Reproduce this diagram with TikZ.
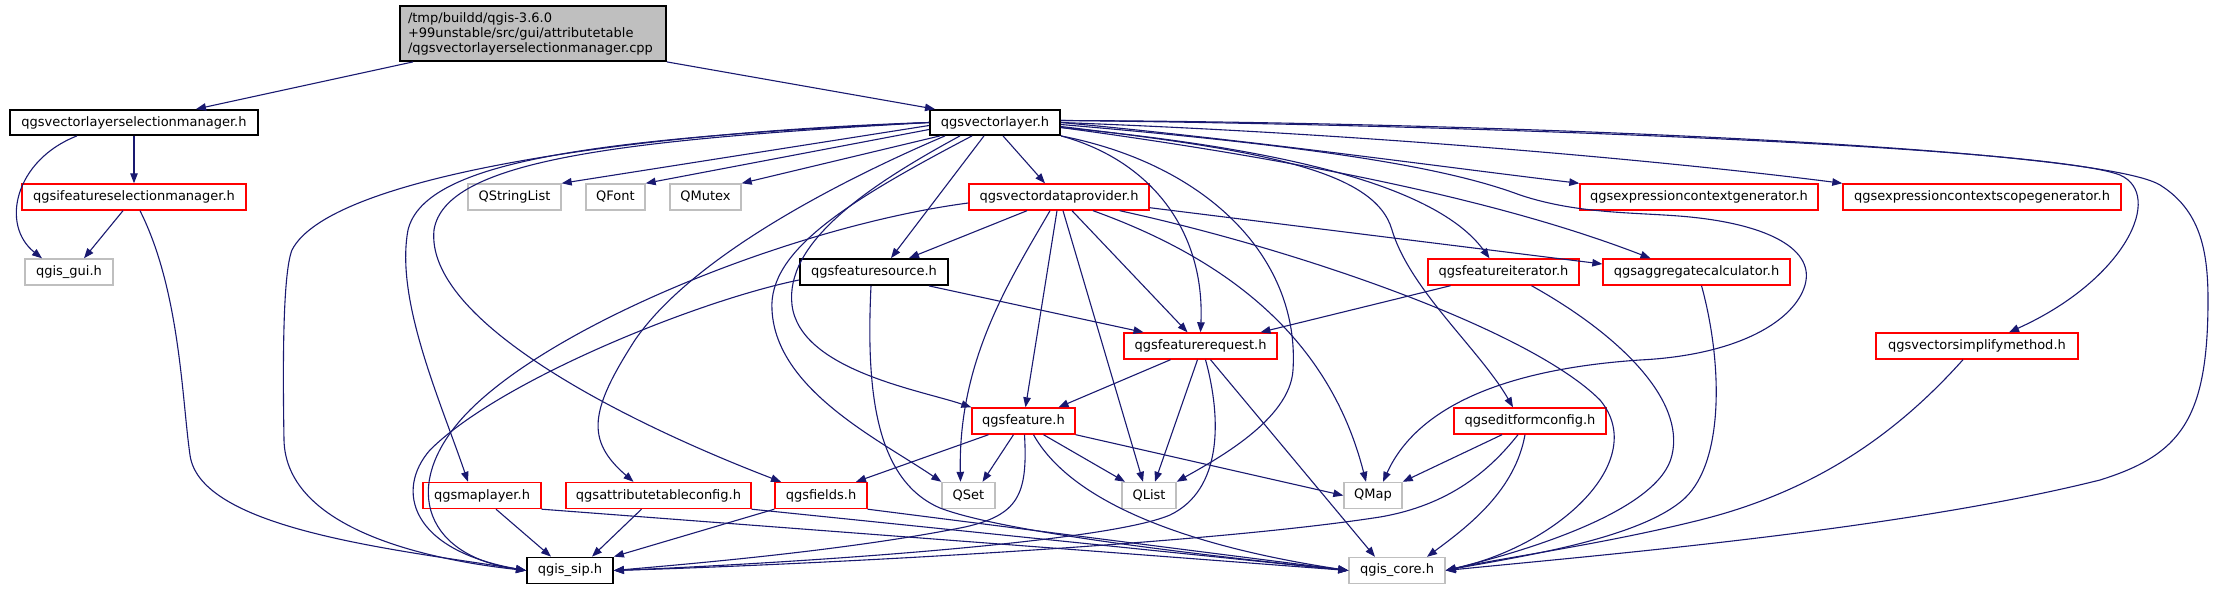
\documentclass[tikz,border=0pt]{standalone}
\usepackage{fontspec}
\setmainfont{DejaVu Sans}
\usetikzlibrary{arrows.meta}
\definecolor{edgeblue}{HTML}{191970}
\definecolor{greyline}{HTML}{BFBFBF}
\definecolor{redline}{HTML}{FF0000}
\definecolor{rootgray}{HTML}{BFBFBF}
\begin{document}
\begin{tikzpicture}[x=1pt,y=-1pt,
 box/.style={draw, line width=1.4pt, fill=white, inner sep=0pt, minimum height=26pt, font=\fontsize{13}{15}\selectfont},
 blk/.style={box, draw=black, line width=1.8pt},
 redb/.style={box, draw=redline},
 gryb/.style={box, draw=greyline},
 e/.style={draw=edgeblue, line width=1.1pt, -{Triangle[length=10pt,width=7.5pt]}}
]
\useasboundingbox (0,0) rectangle (2214,589);

% nodes
\node[blk, fill=rootgray, minimum width=266pt, minimum height=55pt, align=left, text width=250pt] (root) at (533,33.5)
 {/tmp/buildd/qgis-3.6.0\\+99unstable/src/gui/attributetable\\/qgsvectorlayerselectionmanager.cpp};
\node[blk, minimum width=248pt, minimum height=25pt] (vlsm) at (134,122.5) {qgsvectorlayerselectionmanager.h};
\node[blk, minimum width=130pt, minimum height=25pt] (vl) at (995,122.5) {qgsvectorlayer.h};
\node[redb, minimum width=224pt] (ifsm) at (134,197) {qgsifeatureselectionmanager.h};
\node[gryb, minimum width=88pt] (gui) at (69,272) {qgis\_gui.h};
\node[gryb, minimum width=93pt] (QStringList) at (514.5,197) {QStringList};
\node[gryb, minimum width=59pt] (QFont) at (615.5,197) {QFont};
\node[gryb, minimum width=71pt] (QMutex) at (705.5,197) {QMutex};
\node[redb, minimum width=180pt] (vdp) at (1059,197) {qgsvectordataprovider.h};
\node[redb, minimum width=238pt] (exprctxgen) at (1699,197) {qgsexpressioncontextgenerator.h};
\node[redb, minimum width=278pt] (exprctxscopegen) at (1982,197) {qgsexpressioncontextscopegenerator.h};
\node[blk, minimum width=148pt] (featuresource) at (874,272) {qgsfeaturesource.h};
\node[redb, minimum width=151pt] (featureiterator) at (1503.5,272) {qgsfeatureiterator.h};
\node[redb, minimum width=187pt] (aggregatecalc) at (1696.5,272) {qgsaggregatecalculator.h};
\node[redb, minimum width=153pt] (featurerequest) at (1200.5,346) {qgsfeaturerequest.h};
\node[redb, minimum width=202pt] (vsimplify) at (1977,346) {qgsvectorsimplifymethod.h};
\node[redb, minimum width=103pt] (feature) at (1023.5,421) {qgsfeature.h};
\node[redb, minimum width=152pt] (editformconfig) at (1530,421) {qgseditformconfig.h};
\node[redb, minimum width=118pt] (mapl) at (482,495.5) {qgsmaplayer.h};
\node[redb, minimum width=185pt] (attrtab) at (658.5,495.5) {qgsattributetableconfig.h};
\node[redb, minimum width=92pt] (fields) at (821,495.5) {qgsfields.h};
\node[gryb, minimum width=53pt] (QSet) at (968.5,495.5) {QSet};
\node[gryb, minimum width=54pt] (QList) at (1149,495.5) {QList};
\node[gryb, minimum width=58pt] (QMap) at (1373,495.5) {QMap};
\node[blk, minimum width=86pt] (sip) at (570,570.5) {qgis\_sip.h};
\node[gryb, minimum width=96pt] (core) at (1397,570.5) {qgis\_core.h};

% root
\draw[e] ([xshift=-120pt]root.south) -- ([xshift=62pt]vlsm.north);
\draw[e] (root.south east) -- ([xshift=-60pt]vl.north);
% vlsm, ifsm
\draw[e] ([xshift=-57pt]vlsm.south) .. controls (15,160) and (0,225) .. ([xshift=-27pt]gui.north);
\draw[e] (vlsm) -- (ifsm);
\draw[e] ([xshift=-11pt]ifsm.south) -- ([xshift=15pt]gui.north);
\draw[e] ([xshift=6pt]ifsm.south) .. controls (180,290) and (182,400) .. (190,455) .. controls (200,530) and (400,550) .. (sip.west);
% vl left side
\draw[e] (vl.west) .. controls (640,132) and (330,175) .. (292,250) .. controls (282,275) and (283,380) .. (284,440) .. controls (286,530) and (430,560) .. (sip.west);
\draw[e] (vl.west) .. controls (600,138) and (425,160) .. (408,230) .. controls (395,300) and (440,400) .. ([xshift=-14pt]mapl.north);
\draw[e] (vl.west) .. controls (620,140) and (445,160) .. (434,230) .. controls (425,320) and (620,420) .. ([xshift=-40pt]fields.north);
\draw[e] ([yshift=-3pt]vl.west) -- (QStringList.north east);
\draw[e] ([yshift=-7pt]vl.west) -- (QFont.north east);
\draw[e] ([xshift=-55pt]vl.south) -- (QMutex.north east);
\draw[e] ([xshift=-50pt]vl.south) .. controls (830,185) and (690,260) .. (635,340) .. controls (590,410) and (585,440) .. ([xshift=-25pt]attrtab.north);
\draw[e] ([xshift=-11pt]vl.south) -- ([xshift=17pt]featuresource.north);
\draw[e] ([xshift=-23pt]vl.south) .. controls (850,200) and (768,250) .. (772,310) .. controls (776,390) and (880,440) .. (QSet.north west);
\draw[e] ([xshift=-35pt]vl.south) .. controls (860,190) and (785,245) .. (792,305) .. controls (800,370) and (920,390) .. (feature.north west);
\draw[e] ([xshift=8pt]vl.south) -- ([xshift=-14pt]vdp.north);
% vl right side
\draw[e] (vl.south east) .. controls (1150,160) and (1205,230) .. (featurerequest.north);
\draw[e] (vl.south east) .. controls (1210,165) and (1300,260) .. (1293,370) .. controls (1290,420) and (1215,460) .. (QList.north east);
\draw[e] ([yshift=-5pt]vl.east) .. controls (1300,150) and (1440,190) .. ([xshift=-14pt]featureiterator.north);
\draw[e] ([yshift=-5pt]vl.east) .. controls (1300,160) and (1500,200) .. ([xshift=-46pt]aggregatecalc.north);
\draw[e] ([yshift=-4pt]vl.east) .. controls (1260,150) and (1375,170) .. (1392,230) .. controls (1410,290) and (1480,350) .. ([xshift=-17pt]editformconfig.north);
\draw[e] ([yshift=-2pt]vl.east) .. controls (1300,145) and (1440,165) .. (1520,195) .. controls (1580,215) and (1640,212) .. (1690,217) .. controls (1770,225) and (1815,250) .. (1805,285) .. controls (1795,320) and (1740,355) .. (1640,360) .. controls (1520,368) and (1420,400) .. ([xshift=10pt]QMap.north);
\draw[e] (vl.east) .. controls (1250,140) and (1450,168) .. (exprctxgen.north west);
\draw[e] (vl.east) .. controls (1400,135) and (1700,165) .. (exprctxscopegen.north west);
\draw[e] ([yshift=2pt]vl.east) .. controls (1500,125) and (2050,148) .. (2120,175) .. controls (2165,195) and (2125,280) .. ([xshift=32pt]vsimplify.north);
\draw[e] ([yshift=2pt]vl.east) .. controls (1500,122) and (2100,148) .. (2160,185) .. controls (2200,210) and (2208,250) .. (2208,300) .. controls (2208,420) and (2180,455) .. (2100,480) .. controls (1900,530) and (1600,555) .. (core.east);
% vdp
\draw[e] ([xshift=-32pt]vdp.south) -- ([xshift=35pt]featuresource.north);
\draw[e] ([yshift=-6pt]vdp.west) .. controls (800,225) and (560,320) .. (470,410) .. controls (400,480) and (420,555) .. (sip.west);
\draw[e] ([xshift=-9pt]vdp.south) .. controls (1010,280) and (958,360) .. ([xshift=-8pt]QSet.north);
\draw[e] ([xshift=-2pt]vdp.south) -- ([xshift=2pt]feature.north);
\draw[e] ([xshift=4pt]vdp.south) -- ([xshift=-6pt]QList.north);
\draw[e] ([xshift=13pt]vdp.south) -- ([xshift=-13pt]featurerequest.north);
\draw[e] ([xshift=34pt]vdp.south) .. controls (1230,260) and (1330,340) .. ([xshift=-7pt]QMap.north);
\draw[e] ([yshift=3pt]vdp.south east) -- ([yshift=8pt]aggregatecalc.west);
\draw[e] ([xshift=-30pt]vdp.south east) .. controls (1300,250) and (1530,330) .. (1600,400) .. controls (1650,460) and (1560,545) .. (core.east);
% featuresource
\draw[e] ([yshift=-8pt]featuresource.west) .. controls (700,300) and (500,380) .. (430,450) .. controls (395,490) and (410,550) .. (sip.west);
\draw[e] ([xshift=55pt]featuresource.south) -- ([xshift=-57pt]featurerequest.north);
\draw[e] ([xshift=-3pt]featuresource.south) .. controls (866,390) and (875,480) .. (940,508) .. controls (1010,535) and (1250,560) .. (core.west);
% featureiterator, aggregatecalc
\draw[e] ([xshift=-53pt]featureiterator.south) -- ([xshift=60pt]featurerequest.north);
\draw[e] ([xshift=28pt]featureiterator.south) .. controls (1620,335) and (1685,400) .. (1672,455) .. controls (1660,510) and (1530,550) .. (core.east);
\draw[e] ([xshift=5pt]aggregatecalc.south) .. controls (1722,360) and (1725,460) .. (1685,498) .. controls (1640,540) and (1510,558) .. (core.east);
% featurerequest
\draw[e] ([xshift=-30pt]featurerequest.south) -- ([xshift=35pt]feature.north);
\draw[e] ([xshift=-3pt]featurerequest.south) -- ([xshift=6pt]QList.north);
\draw[e] ([xshift=5pt]featurerequest.south) .. controls (1222,420) and (1222,490) .. (1170,515) .. controls (1100,545) and (750,565) .. (sip.east);
\draw[e] ([xshift=10pt]featurerequest.south) -- ([xshift=-22pt]core.north);
% feature
\draw[e] ([xshift=-35pt]feature.south) -- ([xshift=35pt]fields.north);
\draw[e] ([xshift=-10pt]feature.south) -- ([xshift=14pt]QSet.north);
\draw[e] ([xshift=1pt]feature.south) .. controls (1028,495) and (1018,515) .. (965,527) .. controls (850,550) and (700,563) .. (sip.east);
\draw[e] ([xshift=20pt]feature.south) -- ([xshift=-24pt]QList.north);
\draw[e] (feature.south east) -- (QMap.west);
\draw[e] ([xshift=10pt]feature.south) .. controls (1070,500) and (1180,545) .. (core.west);
% bottom row
\draw[e] ([xshift=14pt]mapl.south) -- ([xshift=-19pt]sip.north);
\draw[e] (mapl.south east) -- (core.west);
\draw[e] ([xshift=-17pt]attrtab.south) -- ([xshift=22pt]sip.north);
\draw[e] (attrtab.south east) -- (core.west);
\draw[e] (fields.south west) -- (sip.north east);
\draw[e] (fields.south east) -- (core.west);
% editformconfig, vsimplify
\draw[e] ([xshift=-28pt]editformconfig.south) -- (QMap.north east);
\draw[e] ([xshift=-12pt]editformconfig.south) .. controls (1490,470) and (1450,505) .. (1380,517) .. controls (1200,545) and (800,565) .. (sip.east);
\draw[e] ([xshift=-5pt]editformconfig.south) .. controls (1515,490) and (1470,525) .. ([xshift=30pt]core.north);
\draw[e] ([xshift=-14pt]vsimplify.south) .. controls (1900,430) and (1820,490) .. (1700,520) .. controls (1600,545) and (1500,558) .. (core.east);
\end{tikzpicture}
\end{document}
